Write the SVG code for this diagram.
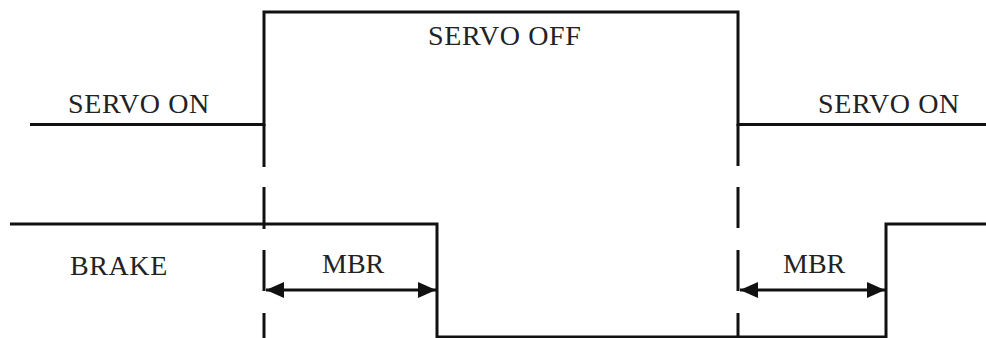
<svg xmlns="http://www.w3.org/2000/svg" width="986" height="338" viewBox="0 0 986 338">
<style>
.w{fill:none;stroke:#111;stroke-width:3;stroke-linejoin:miter;stroke-linecap:butt}
.d{fill:none;stroke:#111;stroke-width:3}
.a{fill:none;stroke:#111;stroke-width:3}
.t{font-family:"Liberation Serif","Times New Roman",serif;font-size:28px;fill:#222}
.s{letter-spacing:0.6px}
</style>
<defs>
<marker id="ah" viewBox="0 0 18 16" refX="18" refY="8" markerWidth="18" markerHeight="16" markerUnits="userSpaceOnUse" orient="auto-start-reverse">
<path d="M0,0 L18,8 L0,16 Z" fill="#111"/>
</marker>
</defs>
<rect width="986" height="338" fill="#fff"/>
<g id="connectors">
<path class="w" d="M30,124.5 H264 V12 H738 V124.5 H986"/>
<path class="w" d="M10,224 H437 V337 H886 V224 H986"/>
<path class="d" d="M264,124 V167 M264,187 V229 M264,250 V291 M264,313 V338"/>
<path class="d" d="M738,124 V166 M738,187 V228 M738,250 V291 M738,313 V338"/>
<line class="a" x1="266" y1="290" x2="436" y2="290" marker-start="url(#ah)" marker-end="url(#ah)"/>
<line class="a" x1="740" y1="290" x2="885" y2="290" marker-start="url(#ah)" marker-end="url(#ah)"/>
</g>
<g id="servo-on-left"><text class="t s" x="68" y="113">SERVO ON</text></g>
<g id="servo-off"><text class="t s" x="428" y="45">SERVO OFF</text></g>
<g id="servo-on-right"><text class="t s" x="818" y="113">SERVO ON</text></g>
<g id="brake"><text class="t s" x="70" y="275">BRAKE</text></g>
<g id="mbr-left"><text class="t" x="322" y="273">MBR</text></g>
<g id="mbr-right"><text class="t" x="783" y="273">MBR</text></g>
</svg>
